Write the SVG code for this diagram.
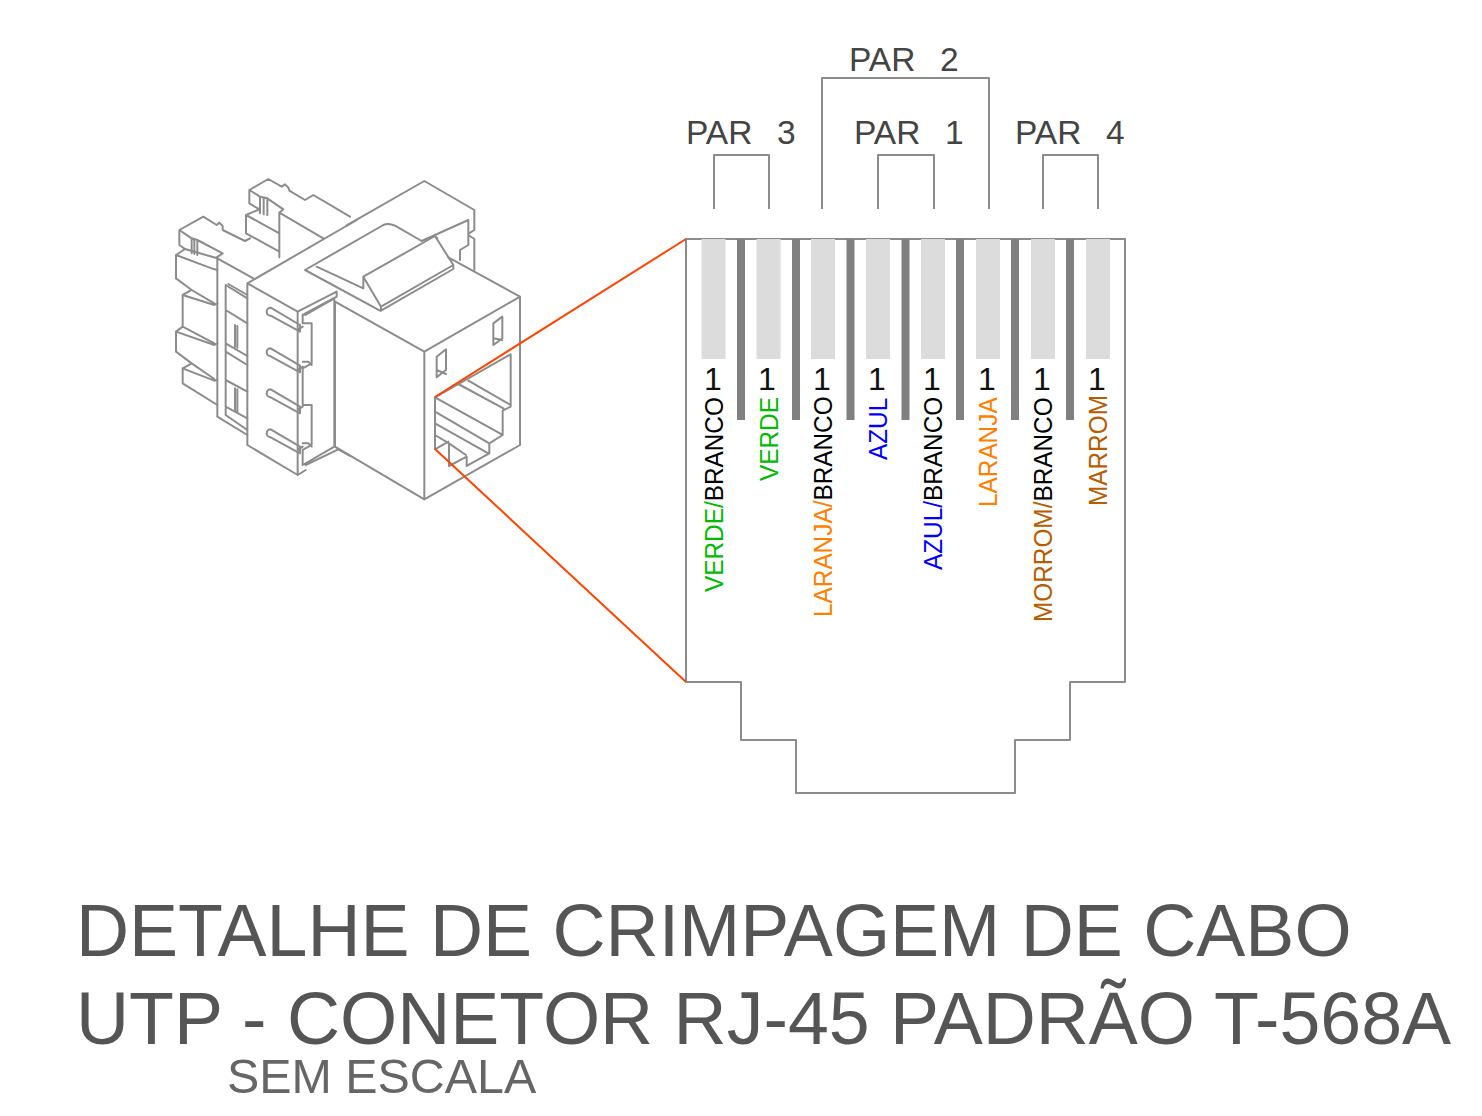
<svg xmlns="http://www.w3.org/2000/svg" width="1482" height="1116" viewBox="0 0 1482 1116">
<style>
text{font-family:"Liberation Sans",Arial,sans-serif}
.l{fill:none;stroke:#8c8c8c;stroke-width:2;stroke-linejoin:round}
.z{fill:none;stroke:#8c8c8c;stroke-width:6;stroke-linejoin:round;stroke-linecap:round}
.pin{fill:#dcdcdc}
.bar{fill:#808080}
.n{font-size:32px;fill:#111;text-anchor:middle}
.w{font-size:26px}
.k{fill:#000}.g{fill:#00bb00}.o{fill:#ff7f00}.b{fill:#0000ff}.m{fill:#b85c00}
.par{font-size:33.500px;fill:#444;white-space:pre;word-spacing:3px}
.t{font-size:73.500px;fill:#555;white-space:pre}
.s{font-size:48.400px;fill:#666}
</style>
<rect width="1482" height="1116" fill="#fff"/>
<g id="keystone-rear" transform="translate(160 170) scale(.33333)">
<path class="z" d="M58 180L130 140L170 165L178 158L188 168L188 180L255 213L270 205M58 180L95 205L112 210L188 250L170 262M58 180V225L75 237M95 205V250M112 210V255M103 207V252"/>
<path class="z" d="M268 60L325 27L365 50L375 43L385 53L388 62L435 90L460 75L570 140M268 60L300 80L322 85L370 118L358 128M268 60V100L298 118M300 80V130M322 85V135M311 83V133M298 118L258 135V190L358 245M258 135L358 190M358 128V262M358 128L490 205"/>
<path class="z" d="M75 237L48 255V325L95 360L68 375V470L48 485V545L95 580L68 595V640L172 705M48 255L163 298M75 237L172 265M95 360L163 400M68 375L163 405M68 470L163 520M48 485L163 525M95 580L163 627M68 595L163 632M163 298L172 300M163 405L172 400M163 525L172 520M163 632L172 630"/>
<path class="z" d="M172 265V740L262 795M172 265L280 325M197 345V735L262 780M197 345L262 385M205 342L262 375M197 420L262 460M197 520L262 558M197 545L262 585M197 630L262 665M197 710L262 745M225 465V530M232 468V533M225 655V725M232 658V728"/>
<path class="z" d="M262 340V825L413 915V425L262 340M262 340L590 150M413 425L530 365V380L428 435V460L455 460V580L428 595V705L455 705V825L428 840V885L523 830V390M436 435L523 385M413 480L428 470M413 600L428 590M413 720L428 710M413 840L428 830M428 575H445L455 585M428 820H445L455 830M437 885L535 838L570 858M413 915L437 900"/>
<path class="z" d="M332 413L420 465V485L332 437A12 12 0 0 1 332 413ZM332 535L420 587V607L332 559A12 12 0 0 1 332 535ZM332 658L420 710V730L332 682A12 12 0 0 1 332 658ZM332 778L420 830V850L332 802A12 12 0 0 1 332 778Z"/>
</g>
<g id="keystone-front" transform="translate(300 170) scale(.33333)">
<path class="z" d="M140 166L373 33L523 120V180L507 190M505 150L365 213M505 150V225L480 240V270M505 195L523 207V300"/>
<path class="z" d="M15 300L250 165Q265 158 285 167L365 213M15 300L240 422M50 290L190 355V320L405 198L460 285L243 410V422L460 297V285M190 320L243 410M405 198L412 205"/>
<path class="z" d="M105 395L373 545L660 380L445 262M373 545V988L660 825V380M105 395V830L373 988M105 830L120 840"/>
<path class="z" d="M410 560L438 538V600L410 622ZM410 600L438 612M580 460L607 440V505L580 525ZM580 505L607 510"/>
<path class="z" d="M405 682L632 553V710L608 722V795L568 820V850L500 888V860L447 888V820L405 795M405 682V838L445 815M405 682L608 795M475 642L610 715M505 632L632 705M405 725L568 820M405 760L565 850M447 820L498 855"/>
</g>
<g id="connector-face">
<path class="l" d="M686 239H1125V682H1070V740H1015V793H796V740H741V682H686Z"/>
<rect class="pin" x="701.500" y="239" width="24" height="120"/>
<rect class="pin" x="756.500" y="239" width="24" height="120"/>
<rect class="pin" x="811" y="239" width="24" height="120"/>
<rect class="pin" x="866" y="239" width="24" height="120"/>
<rect class="pin" x="921" y="239" width="24" height="120"/>
<rect class="pin" x="976" y="239" width="24" height="120"/>
<rect class="pin" x="1031" y="239" width="24" height="120"/>
<rect class="pin" x="1086" y="239" width="24" height="120"/>
<rect class="bar" x="737" y="239" width="8" height="181"/>
<rect class="bar" x="792" y="239" width="8" height="181"/>
<rect class="bar" x="846.500" y="239" width="8" height="181"/>
<rect class="bar" x="901.500" y="239" width="8" height="181"/>
<rect class="bar" x="956" y="239" width="8" height="181"/>
<rect class="bar" x="1011" y="239" width="8" height="181"/>
<rect class="bar" x="1066" y="239" width="8" height="181"/>
</g>
<g id="pin-numbers">
<text class="n" x="713" y="390">1</text>
<text class="n" x="767" y="390">1</text>
<text class="n" x="822" y="390">1</text>
<text class="n" x="877" y="390">1</text>
<text class="n" x="932" y="390">1</text>
<text class="n" x="987" y="390">1</text>
<text class="n" x="1042" y="390">1</text>
<text class="n" x="1097" y="390">1</text>
</g>
<g id="wire-labels">
<text class="w" transform="translate(722.500 592) rotate(-90) scale(.937 1)"><tspan class="g">VERDE/</tspan><tspan class="k">BRANCO</tspan></text>
<text class="w g" transform="translate(777.500 481) rotate(-90) scale(.937 1)">VERDE</text>
<text class="w" transform="translate(832 617) rotate(-90) scale(.937 1)"><tspan class="o">LARANJA/</tspan><tspan class="k">BRANCO</tspan></text>
<text class="w b" transform="translate(887 460) rotate(-90) scale(.937 1)">AZUL</text>
<text class="w" transform="translate(942 570) rotate(-90) scale(.937 1)"><tspan class="b">AZUL/</tspan><tspan class="k">BRANCO</tspan></text>
<text class="w o" transform="translate(997 507) rotate(-90) scale(.937 1)">LARANJA</text>
<text class="w" transform="translate(1052 622) rotate(-90) scale(.937 1)"><tspan class="m">MORROM/</tspan><tspan class="k">BRANCO</tspan></text>
<text class="w m" transform="translate(1107 506) rotate(-90) scale(.937 1)">MARROM</text>
</g>
<g id="connectors">
<path d="M435 397L686 239M435 449L686 682" fill="none" stroke="#ff4500" stroke-width="2"/>
<path class="l" d="M714 209V155H769V209M878 209V155H934V209M1043 209V155H1098V209M822 209V78H989V209"/>
</g>
<g id="pair-labels">
<text class="par" x="686" y="144">PAR  3</text>
<text class="par" x="854" y="144">PAR  1</text>
<text class="par" x="1015" y="144">PAR  4</text>
<text class="par" x="849" y="71">PAR  2</text>
</g>
<g id="title">
<text class="t" x="76" y="956">DETALHE DE CRIMPAGEM DE CABO</text>
<text class="t" x="76" y="1044">UTP - CONETOR RJ-45 PADRÃO T-568A</text>
<text class="s" x="227" y="1093">SEM ESCALA</text>
</g>
</svg>
